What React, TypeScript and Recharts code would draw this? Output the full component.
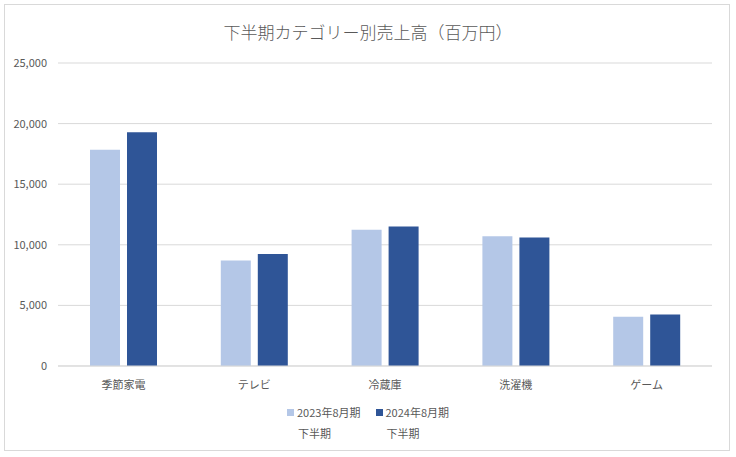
import React from 'react';
import { BarChart, Bar, XAxis, YAxis, CartesianGrid } from 'recharts';

const categories = ['季節家電', 'テレビ', '冷蔵庫', '洗濯機', 'ゲーム'];
const sales2023 = [17850, 8700, 11250, 10700, 4070];
const sales2024 = [19280, 9250, 11500, 10600, 4240];
const yTicks = [0, 5000, 10000, 15000, 20000, 25000];

const seriesInfo = [
  { key: 'fy2023', line1: '2023年8月期', line2: '下半期', color: '#b4c7e7' },
  { key: 'fy2024', line1: '2024年8月期', line2: '下半期', color: '#2f5597' },
];

const data = categories.map((name, i) => ({
  name,
  fy2023: sales2023[i],
  fy2024: sales2024[i],
}));

const FONT = '"Noto Sans CJK JP", "Noto Sans", sans-serif';

// legend drawn by hand so it doesn't eat into the plot height
const LegendBox = () => (
  <div style={{ display: 'flex', justifyContent: 'center', gap: 15, fontFamily: FONT, fontSize: 11, color: '#595959' }}>
    {seriesInfo.map((s) => (
      <div key={s.key} style={{ display: 'flex', alignItems: 'flex-start' }}>
        <span style={{ width: 7, height: 7, background: s.color, marginTop: 7, marginRight: 3 }} />
        <div style={{ lineHeight: '21px' }}>
          <div>{s.line1}</div>
          <div style={{ paddingLeft: 1 }}>{s.line2}</div>
        </div>
      </div>
    ))}
  </div>
);

export default function App() {
  return (
    <div style={{ position: 'absolute', left: 0, top: 0, width: 736, height: 457, background: '#fff' }}>
      <div
        style={{
          position: 'absolute',
          left: 4,
          top: 4,
          width: 724,
          height: 445,
          border: '1px solid #d9d9d9',
        }}
      />
      <div
        style={{
          position: 'absolute',
          left: 0,
          top: 19,
          width: 736,
          textAlign: 'center',
          fontFamily: FONT,
          fontSize: 17,
          fontWeight: 300,
          color: '#595959',
        }}
      >
        下半期カテゴリー別売上高（百万円）
      </div>
      <div style={{ position: 'absolute', left: 0, top: 0 }}>
        <BarChart
          width={736}
          height={457}
          data={data}
          margin={{ top: 63, right: 24, bottom: 61, left: 0 }}
          barSize={30}
          barGap={7}
        >
          <CartesianGrid vertical={false} stroke="#d9d9d9" />
          <XAxis
            dataKey="name"
            height={30}
            axisLine={{ stroke: '#d9d9d9' }}
            tickLine={false}
            tickMargin={9}
            tick={{ fill: '#595959', fontSize: 11, fontFamily: FONT }}
          />
          <YAxis
            width={58}
            domain={[0, 25000]}
            ticks={yTicks}
            axisLine={false}
            tickLine={false}
            tickMargin={5}
            tickFormatter={(v: number) => v.toLocaleString('en-US')}
            tick={{ fill: '#595959', fontSize: 11, fontFamily: FONT }}
          />
          {seriesInfo.map((s) => (
            <Bar key={s.key} dataKey={s.key} fill={s.color} isAnimationActive={false} />
          ))}
        </BarChart>
      </div>
      <div style={{ position: 'absolute', left: 0, top: 402, width: 736 }}>
        <LegendBox />
      </div>
    </div>
  );
}
